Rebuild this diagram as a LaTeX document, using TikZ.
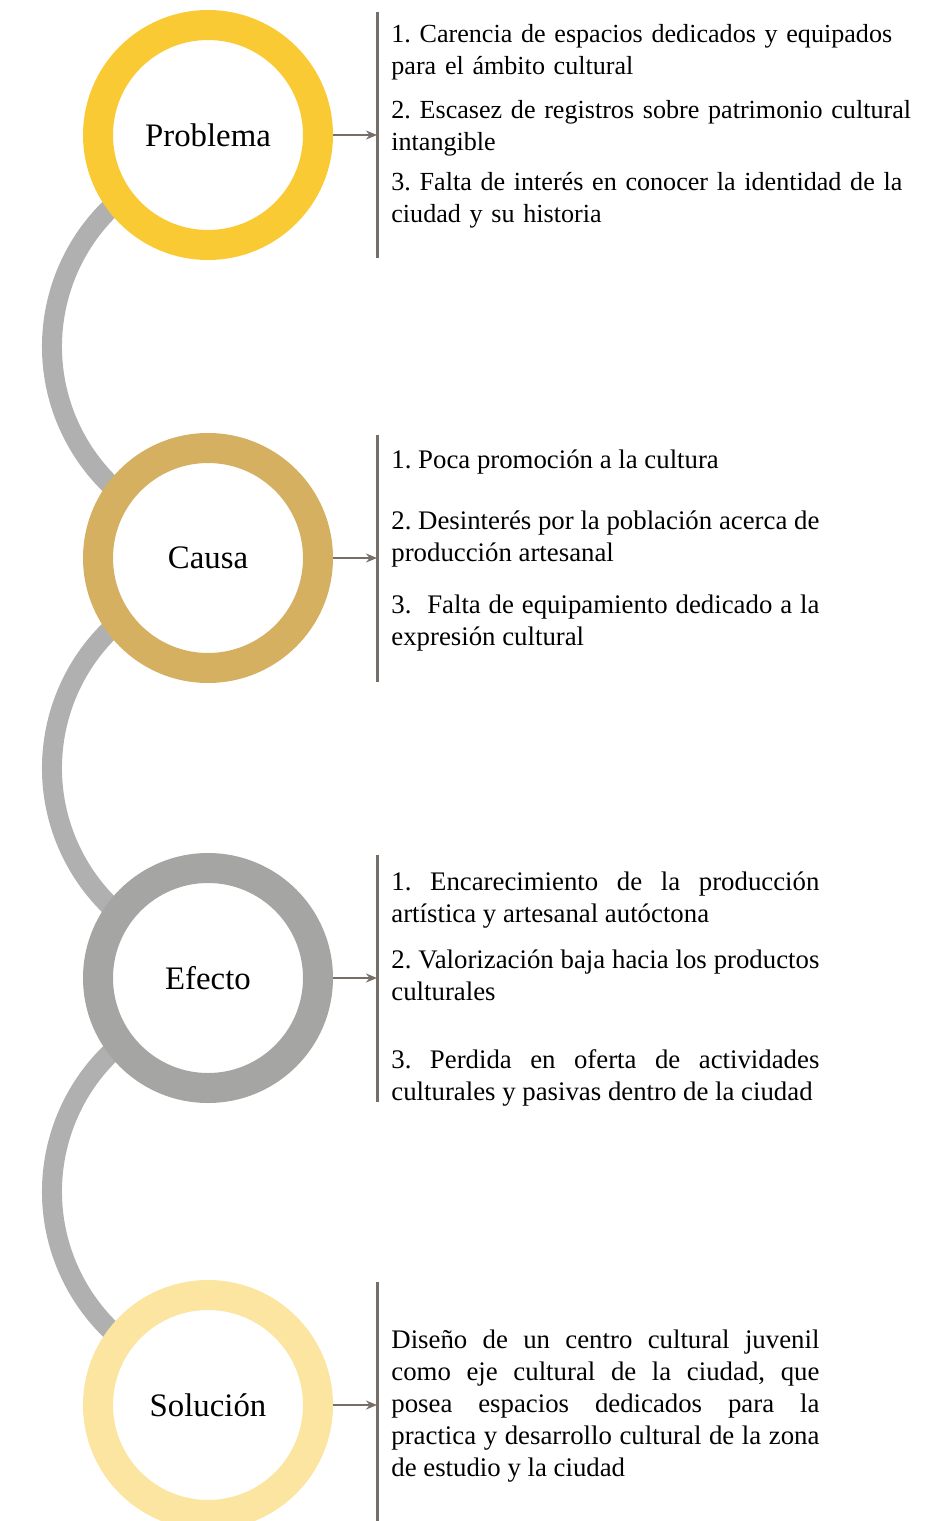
\documentclass[tikz,border=0pt]{standalone}
\usepackage{fontspec}
\setmainfont{Liberation Serif}
\usetikzlibrary{positioning, arrows.meta}
\definecolor{ringgold}{RGB}{250,202,52}
\definecolor{ringtan}{RGB}{212,176,96}
\definecolor{ringgray}{RGB}{165,165,163}
\definecolor{ringpale}{RGB}{251,229,160}
\definecolor{chaingray}{RGB}{176,176,176}
\definecolor{barbrown}{RGB}{118,110,104}

\begin{document}
\begin{tikzpicture}[x=0.5pt, y=-0.5pt,
  stage/.style={circle, draw=#1, line width=15pt, fill=white, minimum size=110pt,
    inner sep=0pt, font=\fontsize{16.4}{19}\selectfont},
  chain/.style={chaingray, line width=10pt},
  bar/.style={barbrown, line width=1.5pt},
  link/.style={barbrown, line width=1pt, -{Stealth[length=5.5pt, width=4.5pt]}},
  item/.style={anchor=base west, inner sep=0pt, text width=214pt, align=justify,
    font=\fontsize{13.4}{16}\selectfont\frenchspacing},
  loose/.style={item, text width=280pt, align=left,
    font=\fontsize{13.05}{16}\selectfont\frenchspacing}]
  \useasboundingbox (0,0) rectangle (941,1521);

  % gray links between the rings
  \foreach \m in {346.5, 768, 1191.5}{
    \draw[chain] (245,\m) ++(240:193) arc[start angle=240, end angle=120, radius=193];
  }

  % rings
  \node[stage=ringgold] (prob) at (208,135) {Problema};
  \node[stage=ringtan] (causa) at (208,558) {Causa};
  \node[stage=ringgray] (efecto) at (208,978) {Efecto};
  \node[stage=ringpale] (sol) at (208,1405) {Solución};

  % bars
  \coordinate (probtop) at (377,12);    \coordinate (probbot) at (377,258);
  \coordinate (causatop) at (377,435);  \coordinate (causabot) at (377,682);
  \coordinate (efectotop) at (377,855); \coordinate (efectobot) at (377,1102);
  \coordinate (soltop) at (377,1282);   \coordinate (solbot) at (377,1521);
  \foreach \s in {prob, causa, efecto, sol}{
    \draw[bar] (\s top) -- (\s bot);
    \draw[link] (\s) -- (\s -| \s top);
  }

  % Problema
  \node[loose] (prob1) at (391,42) {1. Carencia de espacios dedicados y equipados\\para el ámbito cultural};
  \node[loose] (prob2) at (391,118) {2. Escasez de registros sobre patrimonio cultural\\intangible};
  \node[loose] (prob3) at (391,190) {3. Falta de interés en conocer la identidad de la\\ciudad y su historia};

  % Causa
  \node[item] (causa1) at (391,468) {1. Poca promoción a la cultura};
  \node[item] (causa2) at (391,529) {2. Desinterés por la población acerca de\linebreak producción artesanal};
  \node[item] (causa3) at (391,613) {3.\ \ Falta de equipamiento dedicado a la\linebreak expresión cultural};

  % Efecto
  \node[item] (efecto1) at (391,890) {1. Encarecimiento de la producción\linebreak artística y artesanal autóctona};
  \node[item] (efecto2) at (391,968) {2. Valorización baja hacia los productos\linebreak culturales};
  \node[item] (efecto3) at (391,1068) {3. Perdida en oferta de actividades\linebreak culturales y pasivas dentro de la ciudad};

  % Solucion
  \node[item] (sol1) at (391,1348) {Diseño de un centro cultural juvenil\linebreak como eje cultural de la ciudad, que\linebreak posea espacios dedicados para la\linebreak practica y desarrollo cultural de la zona\linebreak de estudio y la ciudad};
\end{tikzpicture}
\end{document}
